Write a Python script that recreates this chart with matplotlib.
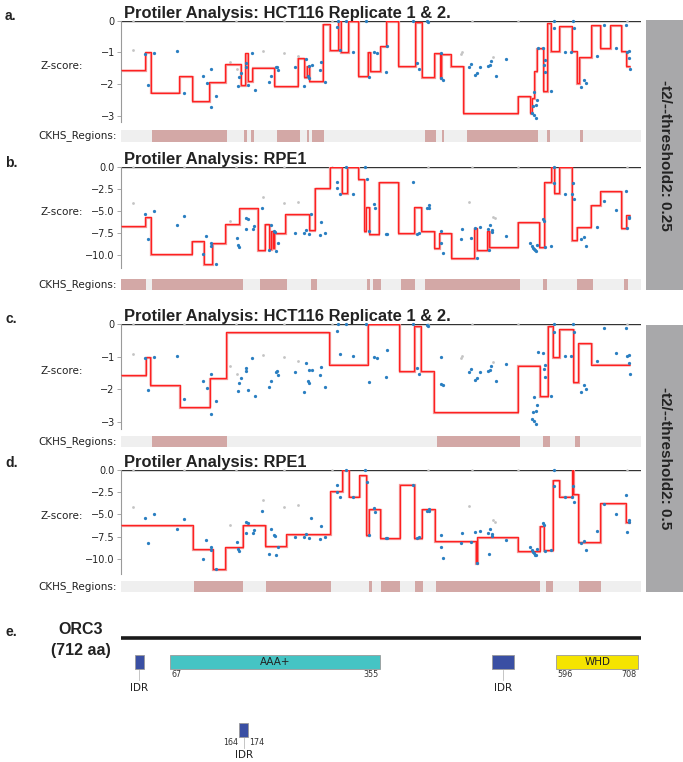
import matplotlib
matplotlib.use('Agg')
import matplotlib.pyplot as plt
from matplotlib.patches import Rectangle
import matplotlib.transforms as mtransforms

# ---------------- data ----------------
L_PROT = 712

hct_x = [32.9, 37.0, 45.6, 77.1, 86.7, 111.8, 117.3, 122.8, 122.8, 129.6, 160.2, 162.0, 163.8, 170.7, 171.2,
         174.3, 179.8, 183.0, 203.1, 204.9, 211.8, 213.1, 214.5, 238.7, 250.1, 253.3, 255.6, 257.0, 257.9,
         261.5, 272.5, 273.4, 278.9, 295.3, 296.7, 299.9, 307.6, 317.7, 335.5, 339.1, 346.4, 350.1, 362.9,
         364.7, 400.3, 404.9, 408.5, 418.5, 420.8, 437.7, 438.2, 441.4, 476.5, 479.7, 484.7, 487.9, 491.6,
         503.0, 505.3, 506.6, 513.5, 527.2, 562.3, 564.6, 566.0, 568.2, 569.2, 566.0, 568.7, 571.4, 577.4,
         579.2, 580.6, 581.0, 588.8, 592.9, 592.9, 607.9, 615.7, 619.4, 620.7, 629.9, 634.0, 636.7, 651.3,
         661.8, 677.3, 691.0, 693.3, 696.0, 696.0, 696.9]
hct_z = [-1.05, -2.03, -1.02, -0.97, -2.28, -1.75, -1.96, -1.52, -2.74, -2.37, -2.06, -1.79, -1.64, -1.33, -1.45,
         -2.03, -1.03, -2.2, -1.94, -1.75, -1.47, -1.45, -1.57, -1.47, -2.07, -1.2, -1.75, -1.81, -1.42,
         -1.4, -1.57, -1.31, -1.93, -0.21, 0.0, -0.93, 0.0, -0.99, 0.0, -1.77, -1.0, -1.03, -1.61,
         -0.79, 0.0, -1.34, -1.53, -0.02, -0.05, -1.02, -1.82, -1.87, -1.47, -1.37, -1.72, -1.66, -1.47,
         -1.44, -1.4, -1.28, -1.74, -1.21, -2.92, -2.69, -2.24, -2.65, -2.49, -2.98, -3.06, -0.86, -0.87,
         -1.39, -1.24, -1.63, -2.21, 0.0, -0.24, -0.98, -0.98, 0.0, -0.23, -2.08, -1.87, -1.98, -1.13,
         -0.13, -0.87, -0.13, -0.98, -0.95, -1.19, -1.53]
hct_grey_x = [16.9, 149.2, 158.4, 194.0, 223.6, 242.4, 465.6, 467.4, 509.8]
hct_grey_z = [-0.92, -1.29, -1.53, -0.96, -1.02, -1.13, -1.05, -0.98, -1.16]

rpe_x = [32.9, 36.5, 45.6, 76.2, 86.3, 111.8, 116.8, 122.8, 122.8, 130.1, 158.4, 160.7, 162.0, 170.7, 173.4,
         171.1, 180.3, 182.6, 193.5, 203.1, 205.4, 209.5, 211.3, 211.8, 214.5, 238.7, 250.1, 253.3, 257.0,
         260.6, 273.4, 272.5, 278.9, 295.3, 296.2, 299.4, 307.6, 317.2, 334.6, 336.4, 339.1, 346.4, 347.8,
         362.9, 364.7, 400.3, 404.9, 408.5, 418.5, 421.7, 422.2, 437.7, 438.2, 441.4, 465.1, 467.4, 479.7,
         484.7, 487.9, 491.6, 503.0, 505.3, 508.5, 508.5, 503.9, 527.2, 560.0, 562.3, 564.1, 566.0, 567.3,
         568.2, 569.6, 577.4, 579.2, 580.6, 588.8, 592.9, 592.9, 607.9, 617.1, 619.4, 620.7, 629.9, 634.0,
         636.2, 651.3, 661.8, 677.3, 691.0, 693.3, 696.0, 696.0]
rpe_z = [-5.38, -8.18, -5.0, -6.63, -5.57, -9.96, -7.92, -8.71, -9.02, -11.1, -8.14, -8.94, -9.09, -5.87, -5.95,
         -7.08, -7.12, -6.74, -4.66, -9.47, -6.63, -7.31, -7.39, -9.55, -8.71, -7.58, -7.58, -7.2, -7.65,
         -5.38, -6.33, -7.73, -7.54, -1.7, -2.46, -3.07, 0.0, -3.07, 0.0, -1.36, -7.31, -4.28, -4.7,
         -7.65, -7.65, -1.7, -7.65, -7.58, -4.66, -4.36, -4.66, -7.31, -8.64, -9.85, -8.22, -7.05, -8.14,
         -6.93, -10.42, -6.82, -7.12, -6.63, -7.2, -7.39, -9.47, -7.88, -8.64, -9.02, -9.2, -9.39, -9.51,
         -9.58, -8.9, -5.98, -6.14, -9.09, -8.98, 0.0, -1.82, -3.07, -3.07, -1.82, -3.64, -8.22, -7.95,
         -9.02, -6.82, -3.86, -4.92, -2.77, -7.0, -5.68, -5.87]
rpe_grey_x = [16.9, 149.2, 194.0, 223.2, 241.9, 476.5, 509.8, 512.1]
rpe_grey_z = [-4.17, -6.14, -3.41, -4.17, -3.98, -4.02, -5.68, -5.8]

zero_grey_x = [17, 86, 157, 223, 289, 421, 481, 544, 693]

# segmentation (step) lines
a_edges = [0, 33, 40.6, 80, 97.7, 121, 142.4, 164, 170, 173.5, 180, 210, 242, 251, 254, 258, 276, 286, 297, 301,
           311, 325, 338, 341, 354.6, 362.9, 379.8, 402.6, 411.7, 429, 436.9, 438.2, 451.5, 468.8, 543.2, 560.1,
           562.4, 566, 569.3, 578.4, 583.9, 588.5, 600.3, 617.2, 624, 627.7, 643.7, 656, 669.7, 684.8, 691.6, 697.1]
a_levels = [-1.55, -1.0, -2.27, -1.74, -2.55, -1.93, -1.38, -2.03, -1.03, -1.92, -1.48, -2.06, -1.19, -1.77, -1.42,
            -1.92, -0.1, -0.92, 0, -0.98, 0, -1.75, -1.0, -1.6, -0.8, 0, -1.42, -0.05, -1.77, -1.02, -1.8, -1.06,
            -1.44, -2.92, -2.39, -2.92, -2.45, -1.6, -0.86, -2.23, -0.08, -0.97, -0.16, -0.97, -1.98, -1.14,
            -0.14, -0.86, -0.13, -0.97, -1.42]

b_edges = [0, 33, 40.6, 97, 113, 125, 142.4, 162, 187, 197, 203, 205.4, 208, 210, 225, 258, 265, 286, 302, 310,
           325, 333, 335, 340, 353, 379.7, 401.7, 410.8, 428.6, 435.4, 451.9, 483.9, 487.1, 501.7, 504, 543.3,
           572.5, 579.8, 588.9, 593, 600.3, 617.2, 624, 643, 656, 684.8, 692, 697]
b_levels = [-6.74, -5.72, -9.96, -8.45, -11.1, -8.64, -6.55, -4.7, -9.5, -6.55, -9.4, -7.3, -9.2, -7.5, -5.38,
            -7.23, -2.39, 0, -3.03, 0, -1.36, -7.3, -4.55, -7.65, -1.7, -7.58, -4.55, -7.27, -9.2, -7.5, -10.34,
            -7.0, -9.43, -7.27, -9.17, -6.29, -9.1, -1.78, 0, -3.03, 0, -8.33, -6.82, -4.36, -2.77, -7.0, -5.5]

c_edges = [0, 34, 40, 80.4, 121.5, 144, 284.8, 338, 381, 401.8, 410.6, 428.4, 543, 573.4, 584.2, 591.2, 600.1,
           618.8, 625.8, 643.6, 697.4]
c_levels = [-1.55, -1.0, -1.87, -2.54, -1.65, -0.24, -1.24, 0, -1.43, -0.06, -1.45, -2.69, -1.27, -2.2, -0.05,
            -1.0, -0.16, -1.78, -0.57, -1.24]

d_edges = [0, 98.1, 125.3, 143, 166.4, 197.8, 225.8, 286.7, 303, 311.5, 326.4, 335.8, 339, 354.5, 381.6, 401.3,
           412, 429.4, 485.5, 487.8, 543, 573.4, 579, 591.2, 600.1, 617.4, 619.3, 625.8, 656.2, 691.3, 697.4]
d_levels = [-6.15, -8.85, -11.15, -8.65, -6.23, -8.54, -7.19, -2.35, 0, -3.0, -0.6, -7.3, -4.42, -7.69, -1.65,
            -7.69, -4.42, -8.0, -10.5, -7.5, -9.15, -6.27, -9.04, -1.15, -3.0, 0, -2.75, -8.08, -3.77, -5.9]

# CKHS regions (start, end)
a_regions = [(42.7, 145.7), (168.4, 173.2), (177.4, 182.2), (213.9, 245.1), (255.2, 257), (261.2, 278),
             (416.3, 431.9), (439.6, 442), (474.4, 570.7), (582.8, 587.4), (628.8, 633)]
b_regions = [(0, 34.9), (42.7, 167.2), (190.6, 227.7), (260.6, 267.8), (337.3, 340.3), (344.4, 356.4),
             (383.9, 403.1), (415.7, 546.2), (577.3, 583.3), (624, 646.8), (688.1, 694.7)]
c_regions = [(42.7, 145.7), (432.5, 546.2), (577.3, 587.4), (622.2, 628.8)]
d_regions = [(99.5, 166.4), (198.7, 287.6), (339.1, 343.3), (355.4, 382.6), (402.7, 413.9), (430.7, 573.9),
             (581.8, 591.2), (627.2, 656.7)]

titles = ["Protiler Analysis: HCT116 Replicate 1 & 2.", "Protiler Analysis: RPE1",
          "Protiler Analysis: HCT116 Replicate 1 & 2.", "Protiler Analysis: RPE1"]
panel_letters = ["a.", "b.", "c.", "d.", "e."]
side_texts = ["-t2/--threshold2: 0.25", "-t2/--threshold2: 0.5"]

hct_ticks = [0, -1, -2, -3]
hct_ticklabels = ["0", "\u22121", "\u22122", "\u22123"]
rpe_ticks = [0, -2.5, -5, -7.5, -10]
rpe_ticklabels = ["0.0", "\u22122.5", "\u22125.0", "\u22127.5", "\u221210.0"]

# protein map
dom_names = ["IDR", "AAA+", "IDR", "WHD"]
dom_start = [19, 67, 508, 596]
dom_end = [31, 355, 538, 708]
dom_colors = ["#3a4fa3", "#45c4c4", "#3a4fa3", "#f5e400"]
idr2_start, idr2_end = 164, 174

# ---------------- figure ----------------
W, H = 683, 762
fig = plt.figure(figsize=(W / 100, H / 100), dpi=100)

def px_axes(l, t, r, b):
    return fig.add_axes([l / W, 1 - b / H, (r - l) / W, (b - t) / H])

def ftext(x, y, s, **kw):
    return fig.text(x / W, 1 - y / H, s, **kw)

TITLE_FONT = dict(family=["Liberation Sans Narrow", "Liberation Sans"], weight="bold", fontsize=11.9,
                  color="#222222")
LAB_FONT = dict(family=["Liberation Sans", "DejaVu Sans"], weight="bold", fontsize=10, color="#222222")
SMALL = ["DejaVu Sans Condensed", "DejaVu Sans"]

X0, X1 = 121, 641
panels = [
    dict(top=20.7, bot=122.0, ylim=(-3.2, 0), ticks=hct_ticks, tl=hct_ticklabels, edges=a_edges, levels=a_levels,
         x=hct_x, z=hct_z, gx=hct_grey_x, gz=hct_grey_z, regions=a_regions, lab_y=16, ck=(130, 142)),
    dict(top=166.7, bot=268.3, ylim=(-11.55, 0), ticks=rpe_ticks, tl=rpe_ticklabels, edges=b_edges,
         levels=b_levels, x=rpe_x, z=rpe_z, gx=rpe_grey_x, gz=rpe_grey_z, regions=b_regions, lab_y=163,
         ck=(279, 290)),
    dict(top=324.1, bot=428.6, ylim=(-3.2, 0), ticks=hct_ticks, tl=hct_ticklabels, edges=c_edges, levels=c_levels,
         x=hct_x, z=hct_z, gx=hct_grey_x, gz=hct_grey_z, regions=c_regions, lab_y=319, ck=(436, 447)),
    dict(top=469.9, bot=574.0, ylim=(-11.7, 0), ticks=rpe_ticks, tl=rpe_ticklabels, edges=d_edges,
         levels=d_levels, x=rpe_x, z=rpe_z, gx=rpe_grey_x, gz=rpe_grey_z, regions=d_regions, lab_y=463,
         ck=(581, 592)),
]

for i, p in enumerate(panels):
    ax = px_axes(X0, p["top"], X1, p["bot"])
    ax.set_xlim(0, L_PROT)
    ax.set_ylim(*p["ylim"])
    for s in ["top", "right", "bottom"]:
        ax.spines[s].set_visible(False)
    ax.spines["left"].set_color("#9a9a9a")
    ax.spines["left"].set_linewidth(0.8)
    ax.set_xticks([])
    ax.set_yticks(p["ticks"])
    ax.set_yticklabels(p["tl"], fontsize=7, color="#222222")
    ax.tick_params(axis="y", length=3, width=0.6, color="#9a9a9a", pad=1.5)
    ax.axhline(0, color="#333333", lw=1.0, zorder=1)
    ax.scatter(zero_grey_x, [0] * len(zero_grey_x), s=3, color="#c8c8c8", zorder=2, clip_on=False, linewidths=0)
    ax.scatter(p["gx"], p["gz"], s=4, color="#c4c4c4", zorder=2, clip_on=False, linewidths=0)
    ax.scatter(p["x"], p["z"], s=5.5, color="#2a7fc1", zorder=4, clip_on=False, linewidths=0)
    shadow = mtransforms.offset_copy(ax.transData, fig=fig, x=0.6, y=-0.9, units="dots")
    ax.stairs(p["levels"], p["edges"], baseline=None, color="#f29a9a", lw=1.6, zorder=3, transform=shadow)
    ax.stairs(p["levels"], p["edges"], baseline=None, color="#ff2020", lw=1.0, zorder=3)
    ax.patch.set_alpha(0)

    ftext(X0 + 3, p["top"] - 3.0, titles[i], ha="left", va="baseline", **TITLE_FONT)
    ftext(5, p["lab_y"], panel_letters[i], ha="left", va="center", **LAB_FONT)
    ftext(83, (p["top"] + p["bot"]) / 2 - 5.5, "Z-score:", ha="right", va="center", fontsize=7.5,
          color="#222222")

    # CKHS regions strip
    ct, cb = p["ck"]
    cax = px_axes(X0, ct, X1, cb)
    cax.set_xlim(0, L_PROT)
    cax.set_ylim(0, 1)
    cax.set_facecolor("#efefef")
    cax.broken_barh([(s, e - s) for s, e in p["regions"]], (0, 1), facecolors="#d3a8a6")
    cax.set_xticks([])
    cax.set_yticks([])
    for s in cax.spines.values():
        s.set_visible(False)
    ftext(117, (ct + cb) / 2, "CKHS_Regions:", ha="right", va="center", fontsize=7.5, color="#222222")

# side grey boxes
for (t, b), txt in zip([(20, 290), (325, 592)], side_texts):
    fig.patches.append(Rectangle((646 / W, 1 - b / H), (683 - 646) / W, (b - t) / H,
                                 transform=fig.transFigure, facecolor="#a8a8aa", edgecolor="none"))
    ftext(665, (t + b) / 2, txt, ha="center", va="center", rotation=270,
          family=["Liberation Sans", "DejaVu Sans"], weight="bold", fontsize=11, color="#222222")

# ---------------- protein map (e) ----------------
eax = px_axes(X0, 600, X1, 762)
eax.set_xlim(0, L_PROT)
eax.set_ylim(762, 600)
eax.axis("off")
LINE_Y = 637.5
eax.plot([0, L_PROT], [LINE_Y, LINE_Y], color="#1a1a1a", lw=2.6, solid_capstyle="butt")

BOX_T, BOX_B = 655, 669
for name, s, e, c in zip(dom_names, dom_start, dom_end, dom_colors):
    eax.add_patch(Rectangle((s, BOX_T), e - s, BOX_B - BOX_T, facecolor=c, edgecolor="#9a9a9a", lw=0.6))
    mid = (s + e) / 2
    if name == "IDR":
        eax.plot([mid, mid], [BOX_B + 1, BOX_B + 11], color="#bbbbbb", lw=0.6)
        eax.text(mid, BOX_B + 19, name, ha="center", va="center", fontsize=7.5, color="#222222", family=SMALL)
    else:
        eax.text(mid, (BOX_T + BOX_B) / 2, name, ha="center", va="center", fontsize=7.5, color="#222222",
                 family=SMALL)
        eax.text(s + 2, BOX_B + 5, str(s), ha="left", va="center", fontsize=5.8, color="#333333", family=SMALL)
        eax.text(e - 2, BOX_B + 5, str(e), ha="right", va="center", fontsize=5.8, color="#333333", family=SMALL)

# lower IDR (164-174)
eax.add_patch(Rectangle((idr2_start - 2, 723), idr2_end - idr2_start + 2, 14, facecolor="#3a4fa3",
                        edgecolor="#9a9a9a", lw=0.6))
m2 = (idr2_start + idr2_end) / 2 - 1
eax.text(idr2_start - 3, 742, str(idr2_start), ha="right", va="center", fontsize=5.8, color="#333333",
         family=SMALL)
eax.text(idr2_end + 2, 742, str(idr2_end), ha="left", va="center", fontsize=5.8, color="#333333",
         family=SMALL)
eax.plot([m2, m2], [738, 748], color="#bbbbbb", lw=0.6)
eax.text(m2, 755, "IDR", ha="center", va="center", fontsize=7.5, color="#222222", family=SMALL)

ftext(5, 632, panel_letters[4], ha="left", va="center", **LAB_FONT)
ftext(81, 630, "ORC3", ha="center", va="center", family=["Liberation Sans", "DejaVu Sans"],
      weight="bold", fontsize=11.5, color="#222222")
ftext(81, 651, "(712 aa)", ha="center", va="center", family=["Liberation Sans", "DejaVu Sans"],
      weight="bold", fontsize=11.5, color="#222222")

fig.savefig("out.png", dpi=100)
